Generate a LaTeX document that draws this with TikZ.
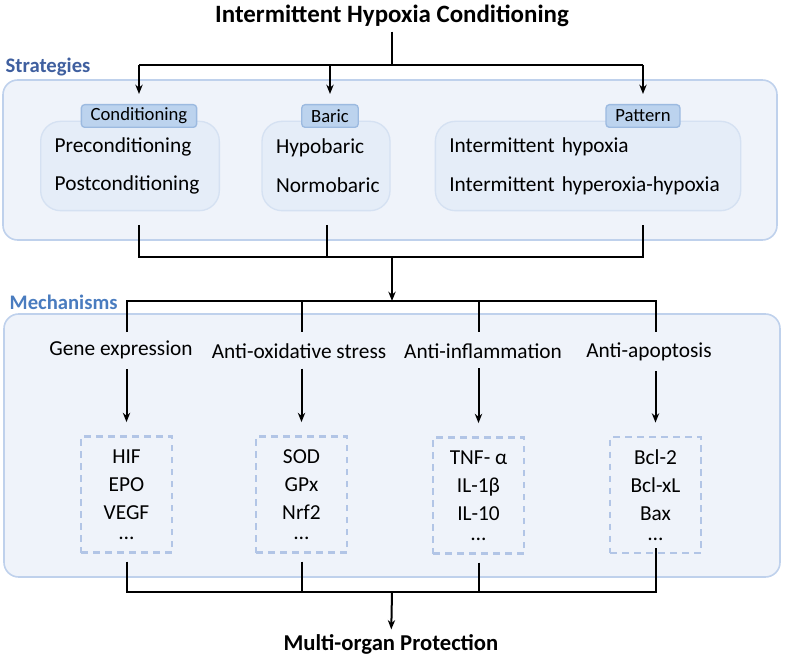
\documentclass[tikz,border=0pt]{standalone}
\usepackage{fontspec}
\setmainfont{Carlito}
\usepackage{tikz}
\usetikzlibrary{arrows.meta}

\definecolor{panelfill}{HTML}{EFF3FA}
\definecolor{panelline}{HTML}{BFD1EC}
\definecolor{groupfill}{HTML}{E5EDF8}
\definecolor{groupline}{HTML}{D5E1F2}
\definecolor{tagfill}{HTML}{BCD3EE}
\definecolor{tagline}{HTML}{9CBAE0}
\definecolor{dashline}{HTML}{B2C5E6}
\definecolor{stratblue}{HTML}{3F5F9F}
\definecolor{mechblue}{HTML}{4A7CBF}

\begin{document}
\begin{tikzpicture}[x=0.75pt,y=-0.75pt,
	link/.style={draw=black, line width=1.5pt},
	arrow/.style={link, -{Stealth[length=7pt,width=5.5pt]}},
	panel/.style={draw=panelline, fill=panelfill, line width=1.2pt, rounded corners=11pt},
	group/.style={draw=groupline, fill=groupfill, line width=1pt, rounded corners=15pt,
		align=left, inner xsep=10.5pt, minimum height=67pt,
		font=\fontsize{16}{29}\selectfont},
	tag/.style={draw=tagline, fill=tagfill, line width=1pt, rounded corners=2.5pt,
		inner xsep=7pt, inner ysep=1pt, minimum height=17pt,
		font=\fontsize{14}{16}\selectfont},
	heading/.style={font=\fontsize{15.5}{18}\selectfont\bfseries, anchor=west},
	mech/.style={font=\fontsize{16}{19}\selectfont},
	markers/.style={draw=dashline, line width=1.6pt, dash pattern=on 5pt off 4pt,
		align=center, minimum width=68pt, minimum height=87pt,
		font=\fontsize{16}{21}\selectfont}]

	\useasboundingbox (0,0) rectangle (785,659);

	% panels
	\draw[panel] (3,80) rectangle (777,240);
	\draw[panel] (4,314) rectangle (780,577);
	\node[heading, text=stratblue] (strat) at (1,67) {Strategies};
	\node[heading, text=mechblue] (mechs) at (5,302) {Mechanisms};

	% top
	\node[font=\fontsize{18.7}{21}\selectfont\bfseries] (ihc) at (392,16) {Intermittent Hypoxia Conditioning};

	% strategies
	\node[group, text width=113pt] (cond) at (130,166) {Preconditioning\\Postconditioning};
	\node[group, text width=75pt] (baric) at (326,166) {Hypobaric\\Normobaric};
	\node[group, text width=208pt] (pat) at (588,166) {Intermittent hypoxia\\Intermittent hyperoxia-hypoxia};
	\node[tag] (condTag) at (139,116) {Conditioning};
	\node[tag] (baricTag) at (330,116) {Baric};
	\node[tag] (patTag) at (643,116) {Pattern};

	\coordinate (sL) at (139,65);
	\coordinate (sC) at (392,65);
	\coordinate (sR) at (643,65);
	\draw[link] (ihc) -- (sC);
	\draw[link] (sL) -- (sR);
	\draw[arrow, shorten >=7.5pt] (sL) -- (condTag.north);
	\draw[arrow, shorten >=7.5pt] (baricTag.north |- sC) -- (baricTag.north);
	\draw[arrow, shorten >=7.5pt] (sR) -- (patTag.north);

	\coordinate (condOut) at (139,225);
	\coordinate (baricOut) at (327,225);
	\coordinate (patOut) at (643,225);
	\coordinate (jS) at (392,257);
	\coordinate (jM) at (392,301);
	\draw[link] (condOut) |- (jS) -| (patOut);
	\draw[link] (baricOut) -- (baricOut |- jS);
	\draw[arrow] (jS) -- (jM);

	% mechanisms
	\node[mech] (gene) at (121,350) {Gene expression};
	\node[mech] (oxid) at (299,351) {Anti-oxidative stress};
	\node[mech] (infl) at (483,351) {Anti-inflammation};
	\node[mech] (apop) at (649,352) {Anti-apoptosis};

	\node[markers] (geneBox) at (126.5,494.5) {HIF\\EPO\\VEGF\\[-6pt]\ldots};
	\node[markers] (oxidBox) at (301.5,494.5) {SOD\\GPx\\Nrf2\\[-6pt]\ldots};
	\node[markers] (inflBox) at (478.5,495.5) {TNF- α\\IL-1β\\IL-10\\[-6pt]\ldots};
	\node[markers] (apopBox) at (655.5,495) {Bcl-2\\Bcl-xL\\Bax\\[-6pt]\ldots};

	\coordinate (geneIn) at (127,332);
	\coordinate (apopIn) at (656,332);
	\draw[link] (geneIn) |- (jM) -| (apopIn);
	\draw[link] (oxidBox.north |- jM) -- (oxidBox.north |- geneIn);
	\draw[link] (inflBox.north |- jM) -- (inflBox.north |- geneIn);

	\foreach \m in {gene,oxid,infl,apop}
		\draw[arrow, shorten <=4pt, shorten >=10pt] (\m.south -| \m Box.north) -- (\m Box.north);

	% bottom
	\node[font=\fontsize{17}{20}\selectfont\bfseries] (mop) at (391,644) {Multi-organ Protection};
	\coordinate (jP) at (392,592);
	\draw[link, shorten <=6pt] (geneBox.south) |- (jP) -| ([yshift=4.5pt]apopBox.south);
	\draw[link, shorten <=6pt] (oxidBox.south) -- (oxidBox.south |- jP);
	\draw[link, shorten <=6pt] (inflBox.south) -- (inflBox.south |- jP);
	\draw[arrow] (jP) -- (mop);

\end{tikzpicture}
\end{document}
